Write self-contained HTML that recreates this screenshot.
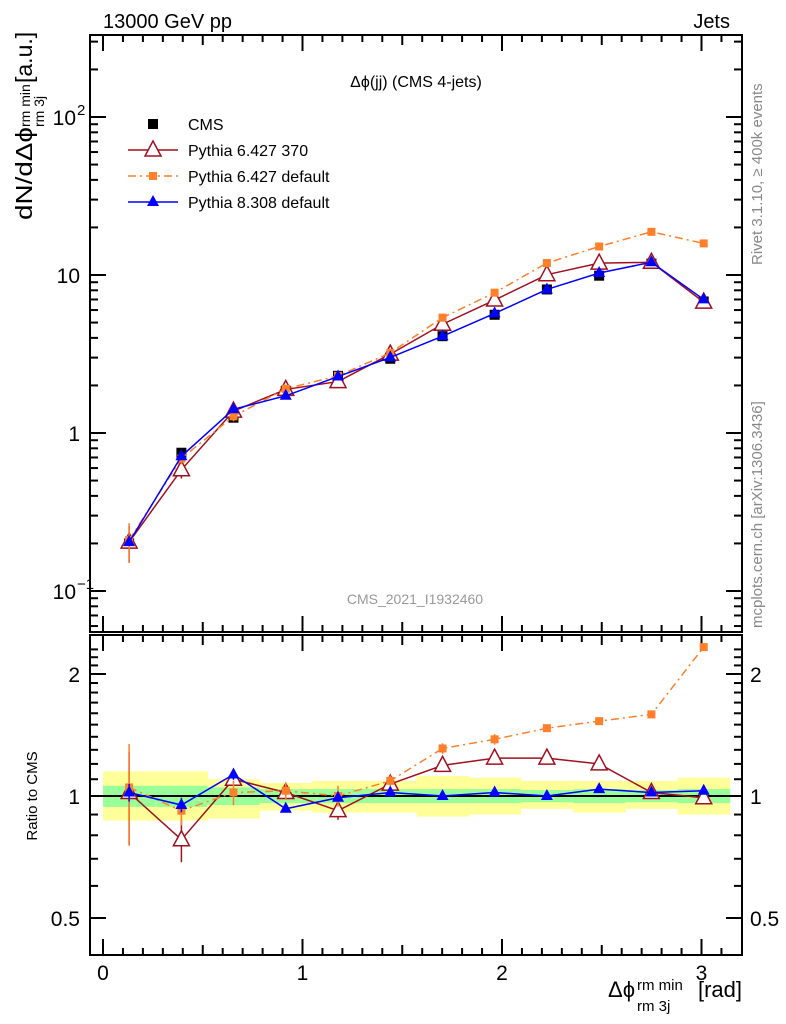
<!DOCTYPE html>
<html><head><meta charset="utf-8"><style>
body{margin:0;background:#fff;}
svg{display:block;font-family:"Liberation Sans",sans-serif;}
</style></head><body>
<svg id="c" width="786" height="1024" xmlns="http://www.w3.org/2000/svg"></svg>
<script>
const xCenters=[0.131,0.393,0.654,0.916,1.178,1.440,1.702,1.963,2.225,2.487,2.749,3.011];
const cmsVals=[0.20,0.75,1.25,1.85,2.30,2.95,4.10,5.60,8.10,9.90,11.8,6.8];
const p6_370Ratio=[1.02,0.78,1.10,1.02,0.92,1.07,1.19,1.24,1.24,1.20,1.02,0.99];
const p6defRatio=[1.05,0.92,1.02,1.03,1.00,1.09,1.31,1.38,1.47,1.53,1.59,2.33];
const p8Ratio=[1.02,0.95,1.13,0.93,0.99,1.02,1.00,1.02,1.00,1.04,1.02,1.03];
const p6_370Err=[0.26,0.12,0.03,0.03,0.05,0.02,0.03,0.02,0.02,0.02,0.02,0.02];
const p6defErr=[0.28,0.08,0.07,0.05,0.06,0.03,0.03,0.03,0.02,0.02,0.02,0.02];
const p8Err=[0.05,0.04,0.03,0.02,0.02,0.02,0.02,0.02,0.02,0.02,0.02,0.02];
const yellowHi=[1.15,1.15,1.10,1.077,1.09,1.09,1.12,1.11,1.09,1.09,1.09,1.11];
const yellowLo=[0.87,0.87,0.88,0.92,0.91,0.91,0.89,0.90,0.93,0.91,0.93,0.90];
const greenHi=[1.06,1.06,1.05,1.04,1.04,1.04,1.04,1.04,1.035,1.04,1.035,1.04];
const greenLo=[0.94,0.94,0.95,0.96,0.96,0.96,0.96,0.96,0.965,0.96,0.965,0.96];
const xTicks=[0,1,2,3];
const mainTicks=[{v:0.1,t:"10",e:"−1"},{v:1,t:"1",e:""},{v:10,t:"10",e:""},{v:100,t:"10",e:"2"}];
const ratioTicks=[0.5,1,2];

const S=document.getElementById('c');const NS="http://www.w3.org/2000/svg";
function el(tag,attrs,parent){const e=document.createElementNS(NS,tag);for(const k in attrs)e.setAttribute(k,attrs[k]);(parent||S).appendChild(e);return e;}
const L=90,R=742,T=35,MB=632,RB=955;
const X=v=>103+v*199.5;
const Y=v=>433-158*Math.log10(v);
const RY=v=>796-122*Math.log2(v);
const binW=Math.PI/12;
const COL={r:"#a0101f",o:"#ff7f2a",b:"#0000ff"};

const gB=el('g',{});
xCenters.forEach((c,i)=>{
 const x0=X(c-binW/2),x1=X(c+binW/2);
 const y=el('rect',{x:x0,y:RY(yellowHi[i]),width:x1-x0+0.5,height:RY(yellowLo[i])-RY(yellowHi[i]),fill:"#ffff99"},gB);
 
 const g=el('rect',{x:x0,y:RY(greenHi[i]),width:x1-x0+0.5,height:RY(greenLo[i])-RY(greenHi[i]),fill:"#99ff99"},gB);
 
});
el('line',{x1:L,x2:R,y1:RY(1),y2:RY(1),stroke:"#000","stroke-width":2});

el('rect',{x:L,y:T,width:R-L,height:MB-T,fill:"none",stroke:"#000","stroke-width":2});
el('rect',{x:L,y:MB+3,width:R-L,height:RB-MB-3,fill:"none",stroke:"#000","stroke-width":2});

for(let v=0;v<=3.2;v+=0.1){
 const x=X(v);if(x<L||x>R)continue;
 const major=Math.abs(v-Math.round(v))<1e-6; const mid=Math.abs(v*2-Math.round(v*2))<1e-6;
 const len=major?16:(mid?10:7);
 [[T,T+len],[MB,MB-len],[MB+3,MB+3+len],[RB,RB-len]].forEach(([a,b])=>el('line',{x1:x,x2:x,y1:a,y2:b,stroke:"#000","stroke-width":2}));
}
xTicks.forEach(v=>{const t=el('text',{x:X(v),y:980,"font-size":21,"text-anchor":"middle"});t.textContent=v;});

for(let d=-2;d<=2;d++){for(let m=1;m<10;m++){const v=m*Math.pow(10,d);const y=Y(v);if(y<T||y>MB)continue;const len=m==1?16:8;
 el('line',{x1:L,x2:L+len,y1:y,y2:y,stroke:"#000","stroke-width":2});el('line',{x1:R,x2:R-len,y1:y,y2:y,stroke:"#000","stroke-width":2});}}
mainTicks.forEach(o=>{const t=el('text',{x:o.e?76:80,y:Y(o.v)+8,"font-size":21,"text-anchor":"end"});t.textContent=o.t;
 if(o.e){const s=el('text',{x:77,y:Y(o.v)-2,"font-size":15});s.textContent=o.e;}});
for(let v=0.4;v<=2.31;v+=0.1){const y=RY(v);if(y<MB+3||y>RB)continue;const maj=[0.5,1,2].some(m=>Math.abs(m-v)<1e-6);const len=maj?16:8;
 el('line',{x1:L,x2:L+len,y1:y,y2:y,stroke:"#000","stroke-width":2});el('line',{x1:R,x2:R-len,y1:y,y2:y,stroke:"#000","stroke-width":2});}
ratioTicks.forEach(v=>{const t=el('text',{x:80,y:RY(v)+8,"font-size":21,"text-anchor":"end"});t.textContent=v;
 const t2=el('text',{x:750,y:RY(v)+8,"font-size":21});t2.textContent=v;});

function marker(kind,x,y,col,g){
 if(kind=='sq'){return el('rect',{x:x-5,y:y-5,width:10,height:10,fill:col},g);}
 if(kind=='osq'){return el('rect',{x:x-4,y:y-4,width:8,height:8,fill:col},g);}
 if(kind=='tri'){return el('polygon',{points:`${x},${y-7} ${x-6},${y+4} ${x+6},${y+4}`,fill:col},g);}
 if(kind=='otri'){return el('polygon',{points:`${x},${y-9} ${x-8},${y+6} ${x+8},${y+6}`,fill:"#fff",stroke:col,"stroke-width":1.5},g);}
}
const series=[
 {name:"pythia6-370",r:p6_370Ratio,e:p6_370Err,col:COL.r,m:'otri',dash:null},
 {name:"pythia6-default",r:p6defRatio,e:p6defErr,col:COL.o,m:'osq',dash:"8,4,2,4"},
 {name:"pythia8-default",r:p8Ratio,e:p8Err,col:COL.b,m:'tri',dash:null}
];
const gc=el('g',{});
xCenters.forEach((c,i)=>{const m=marker('sq',X(c),Y(cmsVals[i]),"#000",gc);});
series.forEach(s=>{
 const g=el('g',{});
 const pts=xCenters.map((c,i)=>[X(c),Y(cmsVals[i]*s.r[i])]);
 const a={points:pts.map(p=>p.join(',')).join(' '),fill:"none",stroke:s.col,"stroke-width":1.5};if(s.dash)a["stroke-dasharray"]=s.dash;
 el('polyline',a,g);
 pts.forEach((p,i)=>{const v=cmsVals[i]*s.r[i];el('line',{x1:p[0],x2:p[0],y1:Y(v*(1+s.e[i])),y2:Y(v*(1-s.e[i])),stroke:s.col,"stroke-width":1.5},g);
  const m=marker(s.m,p[0],p[1],s.col,g);});
 const g2=el('g',{});
 const rp=xCenters.map((c,i)=>[X(c),RY(s.r[i])]);
 const a2={points:rp.map(p=>p.join(',')).join(' '),fill:"none",stroke:s.col,"stroke-width":1.5};if(s.dash)a2["stroke-dasharray"]=s.dash;
 el('polyline',a2,g2);
 rp.forEach((p,i)=>{const e=s.e[i];el('line',{x1:p[0],x2:p[0],y1:RY(s.r[i]*(1+e)),y2:RY(s.r[i]*(1-e)),stroke:s.col,"stroke-width":1.5},g2);
  const m=marker(s.m,p[0],p[1],s.col,g2);});
});

const lg=el('g',{});
const LE=[["CMS",'sq',"#000",null,false],["Pythia 6.427 370",'otri',COL.r,null,true],["Pythia 6.427 default",'osq',COL.o,"8,4,2,4",true],["Pythia 8.308 default",'tri',COL.b,null,true]];
LE.forEach((e,i)=>{const y=124+26*i;const g=el('g',{},lg);
 if(e[4]){const a={x1:128,x2:178,y1:y,y2:y,stroke:e[2],"stroke-width":1.5};if(e[3])a["stroke-dasharray"]=e[3];el('line',a,g);}
 marker(e[1],153,y,e[2],g);const t=el('text',{x:188,y:y+6,"font-size":16},g);t.textContent=e[0];});

function txt(x,y,s,str,extra,name,parent){const t=el('text',Object.assign({x:x,y:y,"font-size":s},extra||{}),parent);t.textContent=str;return t;}
txt(103,28,20,"13000 GeV pp",{},'energy-label');
txt(730,28,20,"Jets",{"text-anchor":"end"},'process-label');
txt(416,87,16,"Δϕ(jj) (CMS 4-jets)",{"text-anchor":"middle"},'plot-title');
txt(415,604,14,"CMS_2021_I1932460",{"text-anchor":"middle",fill:"#999"},'analysis-id');
txt(0,0,15,"Rivet 3.1.10, ≥ 400k events",{fill:"#888",transform:"translate(762,265) rotate(-90)"},'rivet-label');
txt(0,0,15,"mcplots.cern.ch [arXiv:1306.3436]",{fill:"#888",transform:"translate(762,628) rotate(-90)"},'mcplots-label');
txt(0,0,15,"Ratio to CMS",{"text-anchor":"middle",transform:"translate(37,796) rotate(-90)"},'ratio-y-axis-title');
const yg=el('g',{transform:"translate(32,220) rotate(-90)"});
txt(0,0,23,"dN/dΔϕ",{textLength:93,lengthAdjust:"spacingAndGlyphs"},'y-title-main',yg);
txt(93,-2,14,"rm min",{},'y-title-sup',yg);
txt(93,12,14,"rm 3j",{},'y-title-sub',yg);
txt(137,0,23,"[a.u.]",{},'y-title-unit',yg);
const xg=el('g',{});
txt(608,997,22,"Δϕ",{},'x-title-main',xg);
txt(637,990,15,"rm min",{},'x-title-sup',xg);
txt(637,1011,15,"rm 3j",{},'x-title-sub',xg);
txt(742,997,22,"[rad]",{"text-anchor":"end"},'x-title-unit',xg);
</script>
</body></html>
